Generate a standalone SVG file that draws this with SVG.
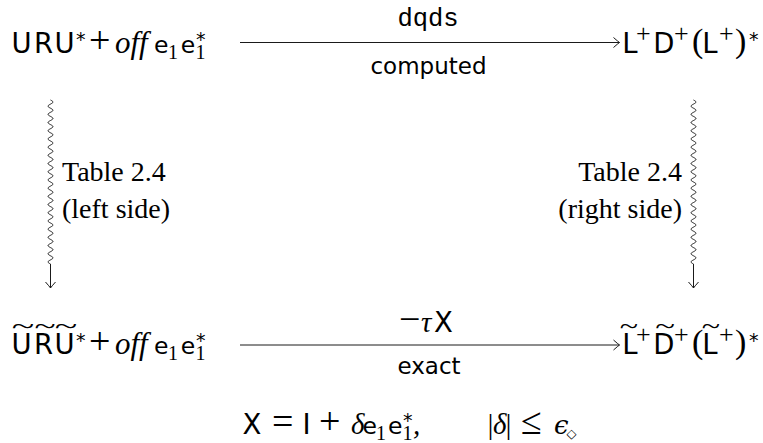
<svg xmlns="http://www.w3.org/2000/svg" width="763" height="443" viewBox="0 0 763 443">
<style>
text{fill:#000}
.s{font-family:"DejaVu Sans",sans-serif;font-size:27.5px}
.se{font-family:"DejaVu Sans",sans-serif;font-size:23.5px}
.op{font-family:"Liberation Serif",serif;font-size:38px}
.it{font-family:"Liberation Serif",serif;font-style:italic;font-size:31px}
.gr{font-family:"Liberation Serif",serif;font-style:italic;font-size:29px}
.sub{font-family:"Liberation Serif",serif;font-size:20px}
.ast{font-family:"DejaVu Sans",sans-serif;font-size:19px}
.sup{font-family:"Liberation Serif",serif;font-size:26px}
.par{font-family:"Liberation Serif",serif;font-size:34px}
.til{font-family:"Liberation Serif",serif;font-size:26px}
.lab{font-family:"Liberation Serif",serif;font-size:28px}
.mono{font-family:"Liberation Mono",monospace;font-size:25.5px}
.txt{font-family:"DejaVu Sans",sans-serif;font-size:23px}
.ln{fill:none;stroke:#1a1a1a;stroke-width:1}
</style>
<defs>
<marker id="to" markerUnits="userSpaceOnUse" markerWidth="14" markerHeight="14" refX="0" refY="0" orient="auto" overflow="visible" viewBox="-8 -7 14 14">
<path d="M-6,-5 Q-1.5,-1 0,0 Q-1.5,1 -6,5" fill="none" stroke="#1a1a1a" stroke-width="1"/>
</marker>
<path id="squig" d="M0,0 c1.28,.67 2.5,1.38 2.5,2.05 c0,.67 -1.22,1.38 -2.5,2.05 c-1.28,.67 -2.5,1.38 -2.5,2.05 c0,.67 1.22,1.38 2.5,2.05 c1.28,.67 2.5,1.38 2.5,2.05 c0,.67 -1.22,1.38 -2.5,2.05 c-1.28,.67 -2.5,1.38 -2.5,2.05 c0,.67 1.22,1.38 2.5,2.05 c1.28,.67 2.5,1.38 2.5,2.05 c0,.67 -1.22,1.38 -2.5,2.05 c-1.28,.67 -2.5,1.38 -2.5,2.05 c0,.67 1.22,1.38 2.5,2.05 c1.28,.67 2.5,1.38 2.5,2.05 c0,.67 -1.22,1.38 -2.5,2.05 c-1.28,.67 -2.5,1.38 -2.5,2.05 c0,.67 1.22,1.38 2.5,2.05 c1.28,.67 2.5,1.38 2.5,2.05 c0,.67 -1.22,1.38 -2.5,2.05 c-1.28,.67 -2.5,1.38 -2.5,2.05 c0,.67 1.22,1.38 2.5,2.05 c1.28,.67 2.5,1.38 2.5,2.05 c0,.67 -1.22,1.38 -2.5,2.05 c-1.28,.67 -2.5,1.38 -2.5,2.05 c0,.67 1.22,1.38 2.5,2.05 c1.28,.67 2.5,1.38 2.5,2.05 c0,.67 -1.22,1.38 -2.5,2.05 c-1.28,.67 -2.5,1.38 -2.5,2.05 c0,.67 1.22,1.38 2.5,2.05 c1.28,.67 2.5,1.38 2.5,2.05 c0,.67 -1.22,1.38 -2.5,2.05 c-1.28,.67 -2.5,1.38 -2.5,2.05 c0,.67 1.22,1.38 2.5,2.05 c1.28,.67 2.5,1.38 2.5,2.05 c0,.67 -1.22,1.38 -2.5,2.05 c-1.28,.67 -2.5,1.38 -2.5,2.05 c0,.67 1.22,1.38 2.5,2.05 c1.28,.67 2.5,1.38 2.5,2.05 c0,.67 -1.22,1.38 -2.5,2.05 c-1.28,.67 -2.5,1.38 -2.5,2.05 c0,.67 1.22,1.38 2.5,2.05 c1.28,.67 2.5,1.38 2.5,2.05 c0,.67 -1.22,1.38 -2.5,2.05 c-1.28,.67 -2.5,1.38 -2.5,2.05 c0,.67 1.22,1.38 2.5,2.05 c1.28,.67 2.5,1.38 2.5,2.05 c0,.67 -1.22,1.38 -2.5,2.05 c-1.28,.67 -2.5,1.38 -2.5,2.05 c0,.67 1.22,1.38 2.5,2.05 c1.28,.67 2.5,1.38 2.5,2.05 c0,.67 -1.22,1.38 -2.5,2.05 c-1.28,.67 -2.5,1.38 -2.5,2.05 c0,.67 1.22,1.38 2.5,2.05 c1.28,.67 2.5,1.38 2.5,2.05 c0,.67 -1.22,1.38 -2.5,2.05 c-1.28,.67 -2.5,1.38 -2.5,2.05 c0,.67 1.22,1.38 2.5,2.05 c1.28,.67 2.5,1.38 2.5,2.05 c0,.67 -1.22,1.38 -2.5,2.05 c-1.28,.67 -2.5,1.38 -2.5,2.05 c0,.67 1.22,1.38 2.5,2.05 c1.28,.67 2.5,1.38 2.5,2.05 c0,.67 -1.22,1.38 -2.5,2.05 c-1.28,.67 -2.5,1.38 -2.5,2.05 c0,.67 1.22,1.38 2.5,2.05 c1.28,.67 2.5,1.38 2.5,2.05 c0,.67 -1.22,1.38 -2.5,2.05 c-1.28,.67 -2.5,1.38 -2.5,2.05 c0,.67 1.22,1.38 2.5,2.05 c1.28,.67 2.5,1.38 2.5,2.05 c0,.67 -1.22,1.38 -2.5,2.05 c-1.28,.67 -2.5,1.38 -2.5,2.05 c0,.67 1.22,1.38 2.5,2.05 c1.28,.67 2.5,1.38 2.5,2.05 c0,.67 -1.22,1.38 -2.5,2.05 c-1.28,.67 -2.5,1.38 -2.5,2.05 c0,.67 1.22,1.38 2.5,2.05 c1.28,.67 2.5,1.38 2.5,2.05 c0,.67 -1.22,1.38 -2.5,2.05 c-1.28,.67 -2.5,1.38 -2.5,2.05 c0,.67 1.22,1.38 2.5,2.05 V188"/>
</defs>

<g id="connectors">
<path class="ln" d="M240,42.5 H619.5" marker-end="url(#to)"/>
<path class="ln" d="M240,345 H619.5" marker-end="url(#to)"/>
<use href="#squig" x="50.5" y="100" class="ln" marker-end="url(#to)"/>
<use href="#squig" x="693.5" y="100" class="ln" marker-end="url(#to)"/>
</g>

<g id="edge-labels">
<text class="mono" x="428" y="25.5" text-anchor="middle">dqds</text>
<text class="txt" x="428.5" y="73.5" text-anchor="middle">computed</text>
<text class="lab" x="62" y="181">Table 2.4</text>
<text class="lab" x="62" y="218">(left side)</text>
<text class="lab" x="682" y="181" text-anchor="end">Table 2.4</text>
<text class="lab" x="682" y="218" text-anchor="end">(right side)</text>
<g id="label-tauX">
<text class="op" x="399" y="332">−</text>
<text class="gr" x="421" y="332">τ</text>
<text class="s" x="434" y="332">X</text>
</g>
<text class="txt" x="429" y="374" text-anchor="middle">exact</text>
</g>

<g id="n-top-left">
<text class="s" x="11.5" y="53">U</text>
<text class="s" x="34" y="53">R</text>
<text class="s" x="54.5" y="53">U</text>
<text class="ast" x="76" y="46">*</text>
<text class="op" x="89" y="53">+</text>
<text class="it" x="115" y="53">off</text>
<text class="se" x="154" y="53">e</text>
<text class="sub" x="168" y="59">1</text>
<text class="se" x="180.7" y="53">e</text>
<text class="ast" x="196" y="46">*</text>
<text class="sub" x="195.5" y="59">1</text>
</g>

<g id="n-top-right">
<text class="s" x="622.3" y="53">L</text>
<text class="sup" x="636" y="42">+</text>
<text class="s" x="653.3" y="53">D</text>
<text class="sup" x="674" y="42">+</text>
<text class="par" x="692" y="52">(</text>
<text class="s" x="702.3" y="53">L</text>
<text class="sup" x="719" y="42">+</text>
<text class="par" x="735" y="52">)</text>
<text class="ast" x="749" y="46">*</text>
</g>

<g id="n-bottom-left">
<text class="til" text-anchor="middle" transform="translate(23,334) scale(1.6,1)">~</text>
<text class="til" text-anchor="middle" transform="translate(45,334) scale(1.5,1)">~</text>
<text class="til" text-anchor="middle" transform="translate(66,334) scale(1.6,1)">~</text>
<text class="s" x="11.5" y="354">U</text>
<text class="s" x="34" y="354">R</text>
<text class="s" x="54.5" y="354">U</text>
<text class="ast" x="76" y="347">*</text>
<text class="op" x="89" y="354">+</text>
<text class="it" x="115" y="354">off</text>
<text class="se" x="154" y="354">e</text>
<text class="sub" x="168" y="360">1</text>
<text class="se" x="180.7" y="354">e</text>
<text class="ast" x="196" y="347">*</text>
<text class="sub" x="195.5" y="360">1</text>
</g>

<g id="n-bottom-right">
<text class="til" text-anchor="middle" transform="translate(629,334) scale(1.3,1)">~</text>
<text class="til" text-anchor="middle" transform="translate(665,334) scale(1.4,1)">~</text>
<text class="til" text-anchor="middle" transform="translate(711,334) scale(1.3,1)">~</text>
<text class="s" x="622.3" y="354">L</text>
<text class="sup" x="636" y="343">+</text>
<text class="s" x="653.3" y="354">D</text>
<text class="sup" x="674" y="343">+</text>
<text class="par" x="692" y="353">(</text>
<text class="s" x="702.3" y="354">L</text>
<text class="sup" x="719" y="343">+</text>
<text class="par" x="735" y="353">)</text>
<text class="ast" x="749" y="347">*</text>
</g>

<g id="formula">
<text class="s" x="242.5" y="434">X</text>
<text class="op" x="272" y="434">=</text>
<text class="s" x="302.5" y="434">I</text>
<text class="op" x="319" y="434">+</text>
<text class="gr" x="351" y="434">δ</text>
<text class="se" x="362.5" y="434">e</text>
<text class="sub" x="376" y="440">1</text>
<text class="se" x="388" y="434">e</text>
<text class="ast" x="403" y="427">*</text>
<text class="sub" x="402.5" y="440">1</text>
<text class="gr" x="413" y="434">,</text>
<text class="gr" x="486" y="434" font-style="normal">|</text>
<text class="gr" x="493" y="434">δ</text>
<text class="gr" x="504" y="434" font-style="normal">|</text>
<text class="op" x="521" y="434">≤</text>
<text x="554" y="434" style="font-family:'DejaVu Serif',serif;font-style:italic;font-size:26px">ϵ</text>
<text x="566.5" y="438" style="font-family:'DejaVu Sans',sans-serif;font-size:13px">◇</text>
</g>
</svg>
